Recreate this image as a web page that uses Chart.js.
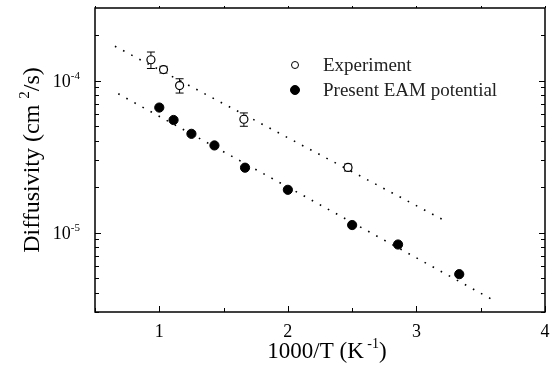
<!DOCTYPE html>
<html>
<head>
<meta charset="utf-8">
<script src="https://cdn.jsdelivr.net/npm/chart.js@4"></script>
<style>
html, body { margin: 0; padding: 0; background: #fff; }
#wrap { width: 552px; height: 374px; position: relative; }
</style>
</head>
<body>
<div id="wrap"><canvas id="diffChart"></canvas></div>
<script>
// values, x = 1000/T (K^-1), y = diffusivity (cm^2/s)
const expX = [0.935, 1.033, 1.158, 1.658, 2.468];
const expY = [1.37e-4, 1.18e-4, 9.27e-5, 5.56e-5, 2.68e-5];
const expErr = [1.7e-5, 6e-6, 1.0e-5, 5.6e-6, 1.4e-6];

const eamX = [1.0, 1.111, 1.25, 1.429, 1.667, 2.0, 2.5, 2.857, 3.333];
const eamY = [6.64e-5, 5.5e-5, 4.46e-5, 3.74e-5, 2.67e-5, 1.91e-5, 1.12e-5, 8.34e-6, 5.32e-6];

// dotted Arrhenius fits (end points)
const fitExpX = [0.655, 3.209];
const fitExpY = [1.68e-4, 1.21e-5];
const fitEamX = [0.681, 3.616];
const fitEamY = [8.18e-5, 3.52e-6];

const xTicks = [1, 2, 3, 4];
const xMinorTicks = [0.5, 1.5, 2.5, 3.5];
const yTicks = [1e-5, 1e-4];
const yTickExp = ["-5", "-4"];
const legendLabels = ["Experiment", "Present EAM potential"];

const SERIF = '"Liberation Serif", "Times New Roman", serif';

function toPoints(xs, ys) {
    return xs.map((x, i) => ({ x: x, y: ys[i] }));
}

// draw a run of pieces [text, isSup] starting at x (baseline y)
function drawPieces(ctx, pieces, x, y, size, supSize, rise) {
    pieces.forEach(p => {
        ctx.font = (p[1] ? supSize : size) + "px " + SERIF;
        ctx.fillText(p[0], x, p[1] ? y - rise : y);
        x += ctx.measureText(p[0]).width;
    });
}

function piecesWidth(ctx, pieces, size, supSize) {
    let w = 0;
    pieces.forEach(p => {
        ctx.font = (p[1] ? supSize : size) + "px " + SERIF;
        w += ctx.measureText(p[0]).width;
    });
    return w;
}

// error bars under the open circles
const errorBars = {
    id: "errorBars",
    beforeDatasetsDraw(chart) {
        const ctx = chart.ctx;
        const xs = chart.scales.x, ys = chart.scales.y;
        ctx.save();
        ctx.strokeStyle = "#000";
        ctx.lineWidth = 1;
        expX.forEach((xv, i) => {
            const px = xs.getPixelForValue(xv);
            const top = ys.getPixelForValue(expY[i] + expErr[i]);
            const bot = ys.getPixelForValue(expY[i] - expErr[i]);
            ctx.beginPath();
            ctx.moveTo(px, top); ctx.lineTo(px, bot);
            ctx.moveTo(px - 4, top); ctx.lineTo(px + 4, top);
            ctx.moveTo(px - 4, bot); ctx.lineTo(px + 4, bot);
            ctx.stroke();
        });
        ctx.restore();
    }
};

// box, inward ticks, labels, titles and legend
const frame = {
    id: "frame",
    afterDraw(chart) {
        const ctx = chart.ctx;
        const a = chart.chartArea;
        const xs = chart.scales.x, ys = chart.scales.y;
        ctx.save();
        ctx.strokeStyle = "#000";
        ctx.fillStyle = "#000";
        ctx.lineWidth = 1.5;
        ctx.strokeRect(a.left, a.top, a.right - a.left, a.bottom - a.top);

        ctx.lineWidth = 1;
        ctx.beginPath();
        xTicks.concat(xMinorTicks).forEach(v => {
            const len = xTicks.includes(v) ? 6 : 4;
            const px = Math.round(xs.getPixelForValue(v)) + 0.5;
            ctx.moveTo(px, a.bottom); ctx.lineTo(px, a.bottom - len);
            ctx.moveTo(px, a.top); ctx.lineTo(px, a.top - 2);
        });
        for (let e = -6; e <= -4; e++) {
            for (let k = 1; k <= 9; k++) {
                const v = k * Math.pow(10, e);
                if (v < ys.min || v > ys.max) continue;
                const len = k === 1 ? 6 : 4;
                const py = Math.round(ys.getPixelForValue(v)) + 0.5;
                ctx.moveTo(a.left, py); ctx.lineTo(a.left + len, py);
                ctx.moveTo(a.right, py); ctx.lineTo(a.right - len, py);
            }
        }
        ctx.stroke();

        // x tick labels
        ctx.font = "18px " + SERIF;
        ctx.textAlign = "center";
        ctx.textBaseline = "alphabetic";
        xTicks.forEach(v => {
            ctx.fillText(String(v), xs.getPixelForValue(v), 337);
        });

        // y tick labels 10^n
        ctx.textAlign = "left";
        yTicks.forEach((v, i) => {
            const pieces = [["10", false], [yTickExp[i], true]];
            const w = piecesWidth(ctx, pieces, 18, 11);
            const py = ys.getPixelForValue(v);
            drawPieces(ctx, pieces, 80 - w, py + 6, 18, 11, 8);
        });

        // x title
        const xt = [["1000/T (K", false], [" -1", true], [")", false]];
        const xw = piecesWidth(ctx, xt, 23, 14);
        drawPieces(ctx, xt, 327 - xw / 2, 358, 23, 14, 10);

        // y title, rotated
        const yt = [["Diffusivity (cm ", false], ["2", true], ["/s)", false]];
        const yw = piecesWidth(ctx, yt, 24, 15);
        ctx.save();
        ctx.translate(39, (a.top + a.bottom) / 2);
        ctx.rotate(-Math.PI / 2);
        drawPieces(ctx, yt, -yw / 2, 0, 24, 15, 10);
        ctx.restore();

        // legend
        const rows = [65, 90];
        rows.forEach((ry, i) => {
            const ds = chart.data.datasets[i];
            ctx.beginPath();
            ctx.arc(295, ry, i === 0 ? 3.5 : 4.5, 0, Math.PI * 2);
            ctx.fillStyle = ds.backgroundColor;
            ctx.fill();
            ctx.lineWidth = 1;
            ctx.strokeStyle = "#000";
            ctx.stroke();
            ctx.fillStyle = "#222";
            ctx.font = "19px " + SERIF;
            ctx.textBaseline = "middle";
            ctx.fillText(legendLabels[i], 323, ry + 1);
        });
        ctx.restore();
    }
};

new Chart(document.getElementById("diffChart"), {
    type: "scatter",
    data: {
        datasets: [
            {
                label: legendLabels[0],
                data: toPoints(expX, expY),
                pointRadius: 4,
                pointBorderWidth: 1.2,
                borderColor: "#000",
                backgroundColor: "#fff"
            },
            {
                label: legendLabels[1],
                data: toPoints(eamX, eamY),
                pointRadius: 4.6,
                borderColor: "#000",
                backgroundColor: "#000"
            },
            {
                type: "line",
                data: toPoints(fitExpX, fitExpY),
                borderColor: "#000",
                borderWidth: 1.6,
                borderDash: [1.6, 7.6],
                pointRadius: 0,
                fill: false
            },
            {
                type: "line",
                data: toPoints(fitEamX, fitEamY),
                borderColor: "#000",
                borderWidth: 1.6,
                borderDash: [1.6, 7.6],
                pointRadius: 0,
                fill: false
            }
        ]
    },
    options: {
        responsive: true,
        maintainAspectRatio: false,
        animation: false,
        layout: { padding: { top: 8, right: 7, left: 0, bottom: 0 } },
        plugins: {
            legend: { display: false },
            tooltip: { enabled: false }
        },
        scales: {
            x: {
                type: "linear",
                min: 0.5,
                max: 4,
                ticks: { display: false },
                grid: { display: false },
                border: { display: false },
                afterFit(s) { s.height = 62; }
            },
            y: {
                type: "logarithmic",
                min: 3e-6,
                max: 3e-4,
                ticks: { display: false },
                grid: { display: false },
                border: { display: false },
                afterFit(s) { s.width = 95; }
            }
        }
    },
    plugins: [errorBars, frame]
});
</script>
</body>
</html>
